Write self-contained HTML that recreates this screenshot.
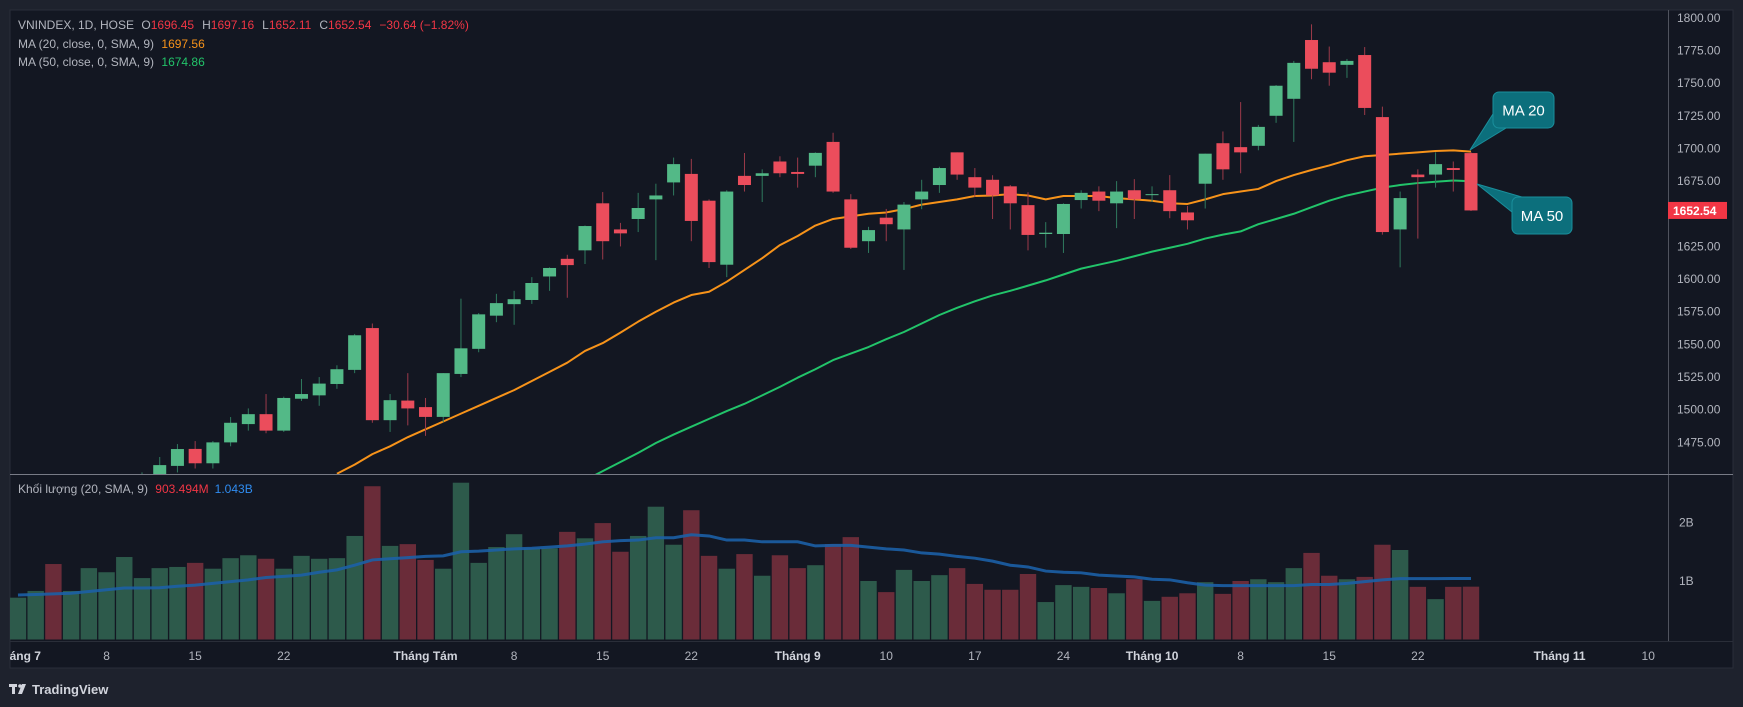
<!DOCTYPE html>
<html><head><meta charset="utf-8">
<style>
html,body{margin:0;padding:0;background:#1e222d;}
svg{display:block;font-family:"Liberation Sans",sans-serif;}
</style></head>
<body>
<svg id="chart" width="1743" height="707" viewBox="0 0 1743 707" xmlns="http://www.w3.org/2000/svg">
  <defs>
    <clipPath id="pricePane"><rect x="10" y="10" width="1658" height="464"/></clipPath>
    <clipPath id="volPane"><rect x="10" y="475" width="1658" height="166"/></clipPath>
    <clipPath id="axisPane"><rect x="10" y="641" width="1658" height="27"/></clipPath>
  </defs>
  <rect x="0" y="0" width="1743" height="707" fill="#1e222d"/>
  <rect x="10" y="10" width="1723" height="658" fill="#131722" stroke="#2a2e39" stroke-width="1"/>
  <line x1="1668.5" y1="10" x2="1668.5" y2="641" stroke="#50535e" stroke-width="1"/>
  <line x1="10" y1="474.5" x2="1733" y2="474.5" stroke="#787b86" stroke-width="1"/>
  <line x1="10" y1="641.5" x2="1733" y2="641.5" stroke="#2a2e39" stroke-width="1"/>
  <g id="volLayer" clip-path="url(#volPane)"></g>
  <g id="priceLayer" clip-path="url(#pricePane)"></g>
  <g id="axisLayer"></g>

  <g font-size="12" fill="#b2b5be">
    <text x="18" y="29">VNINDEX, 1D, HOSE <tspan dx="4">O</tspan><tspan fill="#f23645">1696.45</tspan><tspan dx="8">H</tspan><tspan fill="#f23645">1697.16</tspan><tspan dx="8">L</tspan><tspan fill="#f23645">1652.11</tspan><tspan dx="8">C</tspan><tspan fill="#f23645">1652.54</tspan><tspan dx="8" fill="#f23645">−30.64 (−1.82%)</tspan></text>
    <text x="18" y="48">MA (20, close, 0, SMA, 9) <tspan dx="4" fill="#f7931a">1697.56</tspan></text>
    <text x="18" y="66">MA (50, close, 0, SMA, 9) <tspan dx="4" fill="#22c46a">1674.86</tspan></text>
    <text x="18" y="493">Khối lượng (20, SMA, 9) <tspan dx="4" fill="#f23645">903.494M</tspan><tspan dx="6" fill="#2f8cf0">1.043B</tspan></text>
  </g>

  <g>
    <polygon points="1493,114 1506,128 1470,150" fill="#0c6f7c" stroke="#1a8f9c" stroke-width="1"/>
    <rect x="1493" y="92" width="61" height="36" rx="6" fill="#0c6f7c" stroke="#1a8f9c" stroke-width="1"/>
    <text x="1523.5" y="115.5" text-anchor="middle" font-size="15" fill="#ffffff">MA 20</text>
  </g>
  <g>
    <polygon points="1477,184 1522,197 1512,212" fill="#0c6f7c" stroke="#1a8f9c" stroke-width="1"/>
    <rect x="1512" y="197" width="60" height="37" rx="6" fill="#0c6f7c" stroke="#1a8f9c" stroke-width="1"/>
    <text x="1542" y="221" text-anchor="middle" font-size="15" fill="#ffffff">MA 50</text>
  </g>

  <g>
    <rect x="9" y="684" width="8" height="3" fill="#d1d4dc"/>
    <rect x="12" y="684" width="3" height="10" fill="#d1d4dc"/>
    <circle cx="20" cy="686" r="1.8" fill="#d1d4dc"/>
    <polygon points="22,684 26,684 22,694 18,694" fill="#d1d4dc"/>
    <text x="32" y="694" font-size="13" font-weight="bold" fill="#d1d4dc">TradingView</text>
  </g>
</svg>
<script>
const opens  = [1405,1410,1416,1404,1413,1428,1436,1446,1450,1457,1470,1459,1475,1489,1496.6,1484,1508.4,1511,1519.7,1530.5,1562.5,1492,1507,1502,1494.5,1527.4,1546.6,1572,1580.8,1584,1602,1615.5,1622,1658,1638,1646,1661,1674,1680.5,1660,1611,1679,1679,1690,1682,1686.8,1705,1661,1629,1647,1638,1661,1672,1697,1678,1676,1671,1656.6,1634.5,1634.5,1660.5,1667,1658,1668,1664.5,1668,1651,1673,1704,1701,1702,1725,1738,1783,1766,1764,1771.5,1724,1638,1680,1680,1685,1696.45];
const highs  = [1412,1418,1420,1415,1430,1438,1448,1452,1463.8,1473.7,1476,1476,1494.4,1501,1512,1510,1523.5,1525,1534,1558,1566,1512,1528,1509,1528,1585,1574,1588.7,1591,1601.5,1609,1618.6,1641,1666.6,1643,1666,1673,1693,1692,1661,1668,1696.5,1684,1694,1693,1697,1712,1665,1640,1653.7,1659,1676,1686,1697,1685,1679.5,1672,1666.5,1643.6,1658,1668,1671,1675,1676.5,1671,1679.6,1656,1696,1713,1735.5,1718,1748.5,1767,1795,1778,1768.5,1777.6,1732,1667,1684,1697,1690,1697.16];
const lows   = [1398,1405,1400,1400,1410,1424,1432,1440,1445,1452,1455,1455,1472,1484,1482,1483,1506.7,1503,1516,1528,1490,1483,1488,1480,1490.5,1525,1544,1567,1565,1581,1591,1585.7,1611.5,1615,1625,1636,1614.5,1664,1629,1608.5,1601.5,1667,1659,1678,1670,1678,1666,1623,1620,1629,1607,1653.5,1666,1676,1663,1646,1638,1622,1624,1620,1654,1652,1639,1646,1659,1646.6,1638,1654,1676,1681,1698.6,1719.6,1705,1753,1748,1754,1725.6,1634,1609,1631,1670,1667,1652.11];
const closes = [1410,1416,1404,1413,1428,1436,1446,1450,1457.6,1469.9,1459,1475,1490,1496.6,1484,1509,1512,1520,1531,1557,1492,1507.3,1501,1494.5,1528,1547,1573,1581.6,1584.6,1597,1608.5,1610.7,1640.6,1629,1635,1654.4,1664,1688,1644.5,1613,1667,1672,1681,1681,1680.5,1696.6,1667,1624,1637.5,1642,1657,1667,1685,1680,1670,1664,1658,1633.8,1635.5,1657.5,1666,1660,1667,1661,1665,1652,1645,1696,1684,1697,1716.5,1748,1765.5,1761,1758,1767,1731,1636,1662,1678,1688,1683.5,1652.54];
const volumes = [0.715,0.83,1.29,0.83,1.22,1.15,1.41,1.05,1.22,1.24,1.31,1.21,1.39,1.44,1.38,1.21,1.43,1.38,1.39,1.77,2.62,1.6,1.63,1.36,1.21,2.68,1.31,1.58,1.8,1.56,1.56,1.84,1.73,1.99,1.5,1.77,2.27,1.62,2.21,1.43,1.21,1.46,1.09,1.44,1.22,1.27,1.63,1.75,1.0,0.81,1.19,1.0,1.1,1.22,0.95,0.85,0.85,1.12,0.64,0.93,0.9,0.88,0.79,1.03,0.66,0.73,0.79,0.98,0.78,1.0,1.03,0.98,1.22,1.48,1.09,1.03,1.07,1.62,1.53,0.9,0.69,0.9,0.903];
const volSma = [0.76,0.77,0.78,0.79,0.82,0.85,0.88,0.88,0.885,0.91,0.93,0.96,0.99,1.02,1.06,1.08,1.1,1.15,1.19,1.27,1.36,1.38,1.4,1.42,1.43,1.5,1.51,1.53,1.55,1.56,1.58,1.6,1.63,1.67,1.69,1.7,1.74,1.74,1.79,1.77,1.7,1.7,1.67,1.67,1.67,1.6,1.61,1.61,1.58,1.55,1.53,1.48,1.46,1.42,1.39,1.34,1.27,1.24,1.17,1.15,1.14,1.1,1.085,1.07,1.03,1.02,0.97,0.93,0.92,0.92,0.92,0.92,0.92,0.94,0.94,0.96,0.99,1.02,1.04,1.04,1.04,1.043,1.043];
const ma20 = [null,null,null,null,null,null,null,null,null,null,null,null,null,null,null,null,null,null,1451,1458,1466,1472,1479,1485,1491,1497,1503,1509,1515,1522,1529,1536,1545,1551,1559,1567.4,1575,1582,1587.8,1590.3,1598,1607,1616,1626,1633,1641,1646,1648,1650,1651,1653.6,1657,1659,1661,1663.6,1664,1665,1664,1661,1663.6,1663.6,1663.6,1662,1661,1660,1658,1657.5,1661,1665,1667,1669,1675,1679.6,1683.5,1687,1691,1694,1695,1696,1697,1698,1698.5,1697.56];
const ma50 = [null,null,null,null,null,null,null,null,null,null,null,null,null,null,null,null,null,null,null,null,null,null,null,null,null,null,null,null,null,null,null,null,1446,1453,1460,1467,1474.5,1481,1487,1493,1499,1504.5,1511,1517.5,1524.5,1531,1538,1543,1548,1554,1559.5,1566,1572.5,1578,1583,1587.5,1591,1595,1599,1603.5,1608,1611,1614,1617.5,1621,1624,1627,1631,1634,1636.5,1642,1646,1650,1655,1660,1664,1667,1670,1672,1673.5,1674.5,1675.5,1674.86];
const priceTicks = [1800,1775,1750,1725,1700,1675,1650,1625,1600,1575,1550,1525,1500,1475];
const volTicks = [2,1];
const volTickLabels = ["2B","1B"];
const timeTickIdx = [0,5,10,15,23,28,33,38,44,49,54,59,64,69,74,79,87,92];
const timeTickLabels = ["Tháng 7","8","15","22","Tháng Tám","8","15","22","Tháng 9","10","17","24","Tháng 10","8","15","22","Tháng 11","10"];
const lastPrice = 1652.54;

const NS = "http://www.w3.org/2000/svg";
const N = closes.length;
function xS(i){ return 1471 - (N - 1 - i) * 17.72; }
function yP(p){ return 17.8 + (1800 - p) * 1.3064; }
function yV(v){ return 639.5 - v * 58.5; }
function mk(tag, attrs, parent){
  const el = document.createElementNS(NS, tag);
  for (const k in attrs) el.setAttribute(k, attrs[k]);
  parent.appendChild(el);
  return el;
}
const priceLayer = document.getElementById('priceLayer');
const volLayer = document.getElementById('volLayer');
const axisLayer = document.getElementById('axisLayer');

// volume bars
for (let i = 0; i < N; i++) {
  const up = closes[i] >= opens[i];
  const y = yV(volumes[i]);
  const r = mk('rect', {x: (xS(i) - 8.2).toFixed(2), y: y.toFixed(2), width: 16.4, height: (639.5 - y).toFixed(2), fill: up ? '#2d5a4b' : '#6a2c39'}, volLayer);
  
  
}
// volume SMA
{
  let d = '';
  for (let i = 0; i < N; i++) d += (i ? 'L' : 'M') + xS(i).toFixed(2) + ' ' + yV(volSma[i]).toFixed(2);
  const p = mk('path', {d: d, fill: 'none', stroke: '#1c5fa6', 'stroke-width': 3, opacity: 0.9}, volLayer);
  
  
}
// MA lines
function line(arr, color, name){
  let d = '', started = false;
  for (let i = 0; i < N; i++) {
    if (arr[i] == null) continue;
    d += (started ? 'L' : 'M') + xS(i).toFixed(2) + ' ' + yP(arr[i]).toFixed(2);
    started = true;
  }
  const p = mk('path', {d: d, fill: 'none', stroke: color, 'stroke-width': 2, 'stroke-linejoin': 'round'}, priceLayer);
  
  
}
line(ma20, '#f7931a', 'ma20-line');
line(ma50, '#22c46a', 'ma50-line');
// candles
for (let i = 0; i < N; i++) {
  const up = closes[i] >= opens[i];
  const x = xS(i);
  const g = mk('g', {}, priceLayer);
  
  
  mk('line', {x1: x.toFixed(2), x2: x.toFixed(2), y1: yP(highs[i]).toFixed(2), y2: yP(lows[i]).toFixed(2), stroke: up ? '#2f7a5e' : '#9c3a4a', 'stroke-width': 1}, g);
  const top = yP(Math.max(opens[i], closes[i]));
  const bot = yP(Math.min(opens[i], closes[i]));
  mk('rect', {x: (x - 6.5).toFixed(2), y: top.toFixed(2), width: 13, height: Math.max(1, bot - top).toFixed(2), fill: up ? '#53b987' : '#eb4d5c'}, g);
}
// price axis
priceTicks.forEach(function(p){
  const t = mk('text', {x: 1677, y: (yP(p) + 4).toFixed(2), 'font-size': 12, fill: '#b2b5be'}, axisLayer);
  t.textContent = p.toFixed(2);
  
  
});
{
  const y = yP(lastPrice);
  const r = mk('rect', {x: 1668, y: (y - 8.5).toFixed(2), width: 59, height: 17, fill: '#f23645'}, axisLayer);
  
  
  const t = mk('text', {x: 1673, y: (y + 4.5).toFixed(2), 'font-size': 12, 'font-weight': 'bold', fill: '#ffffff'}, axisLayer);
  t.textContent = lastPrice.toFixed(2);
  
  
}
volTicks.forEach(function(v, k){
  const t = mk('text', {x: 1679, y: (yV(v) + 4).toFixed(2), 'font-size': 12, fill: '#b2b5be'}, axisLayer);
  t.textContent = volTickLabels[k];
  
  
});
// time axis
const tg = mk('g', {'clip-path': 'url(#axisPane)'}, axisLayer);
timeTickIdx.forEach(function(idx, k){
  const month = timeTickLabels[k].indexOf('Tháng') === 0;
  const t = mk('text', {x: xS(idx).toFixed(2), y: 660, 'font-size': 12, 'text-anchor': 'middle', fill: month ? '#d1d4dc' : '#b2b5be', 'font-weight': month ? 'bold' : 'normal'}, tg);
  t.textContent = timeTickLabels[k];
  
  
});
</script>
</body></html>
